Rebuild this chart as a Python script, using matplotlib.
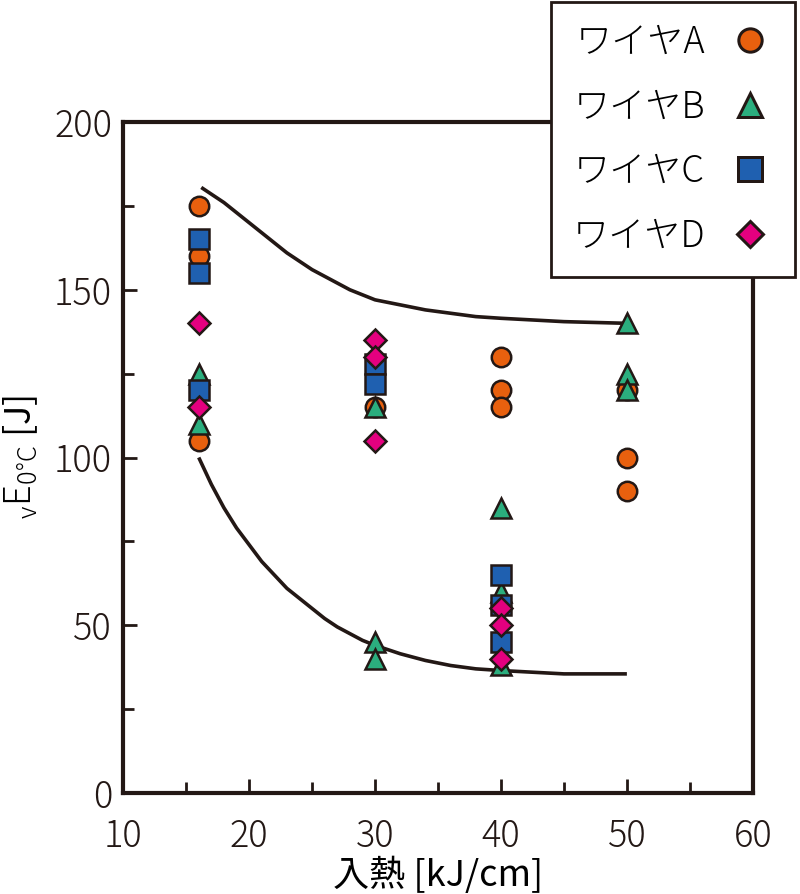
import numpy as np
import matplotlib
matplotlib.use("Agg")
import matplotlib.pyplot as plt
from matplotlib.lines import Line2D

plt.rcParams['font.family'] = ['Noto Sans CJK JP', 'DejaVu Sans']
plt.rcParams['font.weight'] = 'light'
plt.rcParams['mathtext.fontset'] = 'custom'
plt.rcParams['mathtext.rm'] = 'Noto Sans CJK JP:light'
plt.rcParams['mathtext.it'] = 'Noto Sans CJK JP:light'

# heat input [kJ/cm] and vE0C [J] for each wire
a_x = [16, 16, 16, 30, 40, 40, 40, 50, 50, 50]
a_y = [175, 160, 105, 115, 130, 120, 115, 120, 100, 90]
b_x = [16, 16, 30, 30, 30, 40, 40, 40, 50, 50, 50]
b_y = [125, 110, 115, 45, 40, 85, 60, 38, 140, 125, 120]
c_x = [16, 16, 16, 30, 30, 40, 40, 40]
c_y = [165, 155, 120, 128, 122, 65, 56, 45]
d_x = [16, 16, 30, 30, 30, 40, 40, 40]
d_y = [140, 115, 135, 130, 105, 55, 50, 40]

# envelope curves
up_x = [16.2, 17, 18, 19, 20, 21, 22, 23, 24, 25, 26, 27, 28, 29, 30, 32, 34, 36, 38, 40, 45, 50]
up_y = [180.5, 178.5, 176, 173, 170, 167, 164, 161, 158.5, 156, 154, 152, 150, 148.5, 147, 145.5, 144, 143, 142, 141.5, 140.5, 140]
lo_x = [16, 17, 18, 19, 20, 21, 22, 23, 24, 25, 26, 27, 28, 29, 30, 32, 34, 36, 38, 40, 45, 50]
lo_y = [100, 92, 85, 79, 74, 69, 65, 61, 58, 55, 52, 49.5, 47.5, 45.5, 44, 41.5, 39.5, 38, 37, 36.5, 35.5, 35.5]

fs = 26
ms = 14
mew = 1.8
ink = "#231815"

fig = plt.figure(figsize=(8, 8.94), dpi=100)
ax = fig.add_axes([0.154, 0.113, 0.787, 0.7505])

ax.plot(up_x, up_y, color=ink, lw=2.6, zorder=1, solid_capstyle="butt")
ax.plot(lo_x, lo_y, color=ink, lw=2.6, zorder=1, solid_capstyle="butt")

styles = [
    ("ワイヤA", a_x, a_y, "o", "#E8600E"),
    ("ワイヤB", b_x, b_y, "^", "#2BAE7E"),
    ("ワイヤC", c_x, c_y, "s", "#1F60B0"),
    ("ワイヤD", d_x, d_y, "D", "#E4007F"),
]
handles = []
for i, (lab, xs, ys, m, col) in enumerate(styles):
    s = ms * 0.8 if m == "D" else ms
    ax.plot(xs, ys, ls="none", marker=m, ms=s, mfc=col, mec=ink,
            mew=mew, zorder=3 + i, clip_on=False)
    handles.append(Line2D([], [], ls="none", marker=m, ms=s * 1.2, mfc=col,
                          mec=ink, mew=mew * 1.2, label=lab))

ax.set_xlim(10, 60)
ax.set_ylim(0, 200)
ax.set_xticks([10, 20, 30, 40, 50, 60])
ax.set_xticks([15, 25, 35, 45, 55], minor=True)
ax.set_yticks([0, 50, 100, 150, 200])
ax.set_yticks([25, 75, 125, 175], minor=True)
ax.tick_params(which="both", direction="in", width=2, colors=ink,
               labelsize=fs, top=False, right=False)
ax.tick_params(which="major", length=10)
ax.tick_params(which="minor", length=8)
ax.tick_params(axis="x", which="major", pad=18)
ax.tick_params(axis="y", which="major", pad=8)
for sp in ax.spines.values():
    sp.set_linewidth(3)
    sp.set_color(ink)

ax.set_xlabel("入熱 [kJ/cm]", fontsize=fs, labelpad=0)
ax.set_ylabel(r"$_{\mathrm{v}}\mathrm{E}_{0\degree\mathrm{C}}$ [J]", fontsize=fs, labelpad=10)

leg = fig.legend(handles=handles, loc="upper right", bbox_to_anchor=(0.994, 0.998),
                 markerfirst=False, fontsize=fs, frameon=True, fancybox=False,
                 borderpad=0.6, labelspacing=0.72, handletextpad=0.6,
                 handlelength=1.3, borderaxespad=0)
leg.get_frame().set_edgecolor(ink)
leg.get_frame().set_linewidth(2)
leg.get_frame().set_alpha(1)
leg.set_zorder(10)

fig.savefig("out.png", dpi=100)
